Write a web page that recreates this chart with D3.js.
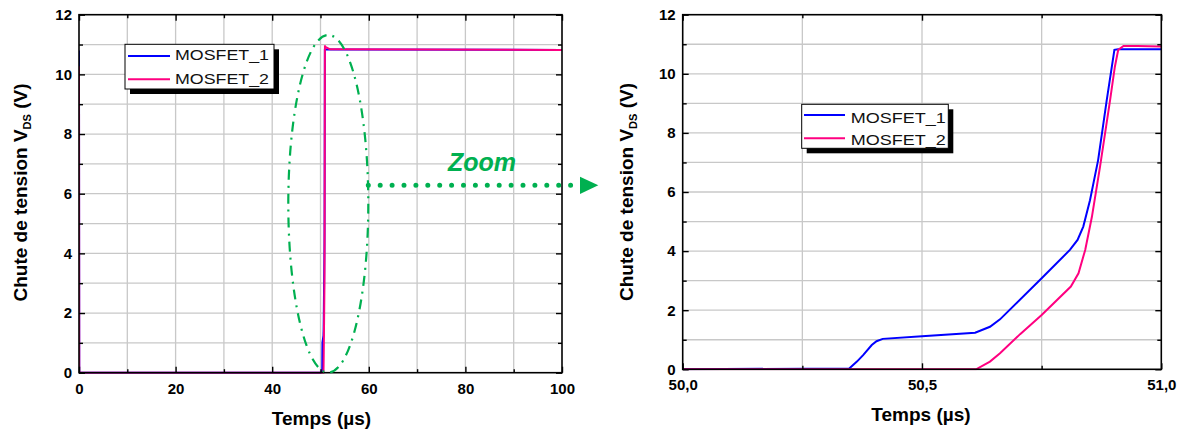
<!DOCTYPE html>
<html><head><meta charset="utf-8">
<script src="https://cdn.jsdelivr.net/npm/d3@7"></script>
<style>body{margin:0;background:#fff}svg{display:block}</style>
</head><body>
<svg id="c" width="1185" height="434"></svg>
<script>
// ---- data ----
const seriesNames = ["MOSFET_1", "MOSFET_2"];
// zoomed transition (µs, V)
const zoomT1 = [50.0, 50.348, 50.364, 50.377, 50.395, 50.405, 50.418, 50.5, 50.611, 50.642, 50.663, 50.75, 50.809, 50.825, 50.837, 50.851, 50.868, 50.886, 50.902, 50.91, 51.0];
const zoomV1 = [0, 0.03, 0.26, 0.48, 0.82, 0.95, 1.03, 1.12, 1.24, 1.44, 1.69, 3.08, 4.04, 4.38, 4.83, 5.72, 7.08, 9.11, 10.81, 10.83, 10.83];
const zoomT2 = [50.0, 50.613, 50.642, 50.663, 50.705, 50.75, 50.811, 50.827, 50.841, 50.855, 50.872, 50.893, 50.903, 50.910, 50.921, 50.95, 51.0];
const zoomV2 = [0, 0, 0.26, 0.54, 1.19, 1.84, 2.80, 3.25, 4.04, 5.16, 6.86, 9.11, 10.24, 10.81, 10.94, 10.94, 10.92];
// full-range head/tail (µs, V)
const headT1 = [0, 0.05], headV1 = [10.8, 0];
const headT2 = [0, 0.05], headV2 = [10.27, 0];
const tailT1 = [52, 100], tailV1 = [10.83, 10.82];
const tailT2 = [52, 100], tailV2 = [10.84, 10.82];
// ticks
const leftXMajor = [0, 20, 40, 60, 80, 100];
const leftXMinor = [10, 30, 50, 70, 90];
const leftXGrid = [10, 20, 30, 40, 50, 60, 70, 80, 90];
const rightXMajor = [50.0, 50.5, 51.0];
const rightXMinor = [50.25, 50.75];
const rightXGrid = [50.25, 50.5, 50.75];
const yMajor = [0, 2, 4, 6, 8, 10, 12];
const yMinor = [1, 3, 5, 7, 9, 11];
const yGrid = [1, 2, 3, 4, 5, 6, 7, 8, 9, 10, 11];

const colors = ["#0000ff", "#ff0080"];
const green = "#00b050";
const svg = d3.select("#c");
svg.append("rect").attr("width", 1185).attr("height", 434).attr("fill", "#fff");

function zip(t, v) { return t.map((d, i) => [d, v[i]]); }

function panel(o) {
  const x = d3.scaleLinear().domain(o.xd).range(o.xr);
  const y = d3.scaleLinear().domain([0, 12]).range(o.yr);
  const g = svg.append("g");
  const [x0, x1] = o.xr, [y0, y1] = o.yr;
  // grid
  g.selectAll(".gx").data(o.xGrid).join("line")
    .attr("x1", d => x(d)).attr("x2", d => x(d)).attr("y1", y0).attr("y2", y1)
    .attr("stroke", "#c8c8c8").attr("stroke-width", 1.3);
  g.selectAll(".gy").data(yGrid).join("line")
    .attr("x1", x0).attr("x2", x1).attr("y1", d => y(d)).attr("y2", d => y(d))
    .attr("stroke", "#c8c8c8").attr("stroke-width", 1.3);
  // curves
  const cid = "clip" + o.id;
  svg.append("clipPath").attr("id", cid).append("rect")
    .attr("x", x0).attr("y", y1 - 2).attr("width", x1 - x0).attr("height", y0 - y1 + 3);
  const line = d3.line().x(d => x(d[0])).y(d => y(d[1]));
  o.series.forEach((s, i) => {
    g.append("path").attr("d", line(s)).attr("fill", "none")
      .attr("stroke", colors[i]).attr("stroke-width", 2).attr("clip-path", `url(#${cid})`);
  });
  // axes
  const font = s => s.attr("font-family", "Liberation Sans, Arial, sans-serif").attr("font-weight", "bold").attr("font-size", "15px").attr("fill", "#000");
  const ax = (gen, tr, vals, size, fmt, pad) => {
    const a = g.append("g").attr("transform", tr)
      .call(gen.tickValues(vals).tickSizeInner(-size).tickSizeOuter(0).tickPadding(pad).tickFormat(fmt));
    a.select(".domain").remove();
    a.selectAll("line").attr("stroke", "#000").attr("stroke-width", 1.4);
    a.selectAll("text").call(font);
    return a;
  };
  const none = () => "";
  ax(d3.axisBottom(x), `translate(0,${y0})`, o.xMajor, 6, o.xFmt, 10.5);
  ax(d3.axisBottom(x), `translate(0,${y0})`, o.xMinor, 3.5, none, 0);
  ax(d3.axisTop(x), `translate(0,${y1})`, o.xMajor, 6, none, 0);
  ax(d3.axisTop(x), `translate(0,${y1})`, o.xMinor, 3.5, none, 0);
  ax(d3.axisLeft(y), `translate(${x0},0)`, yMajor, 6, d3.format("d"), 7);
  ax(d3.axisLeft(y), `translate(${x0},0)`, yMinor, 4, none, 0);
  ax(d3.axisRight(y), `translate(${x1},0)`, yMajor, 6, none, 0);
  ax(d3.axisRight(y), `translate(${x1},0)`, yMinor, 4, none, 0);
  // frame
  g.append("rect").attr("x", x0).attr("y", y1).attr("width", x1 - x0).attr("height", y0 - y1)
    .attr("fill", "none").attr("stroke", "#000").attr("stroke-width", 1.6);
  // titles
  const tf = "Liberation Sans, Arial, sans-serif";
  g.append("text").attr("x", o.xtPos[0]).attr("y", o.xtPos[1]).attr("text-anchor", "middle")
    .attr("font-family", tf).attr("font-weight", "bold").attr("font-size", "19px").text("Temps (µs)");
  const yt = g.append("text").attr("transform", `translate(${o.ytPos[0]},${o.ytPos[1]}) rotate(-90)`)
    .attr("text-anchor", "middle").attr("font-family", tf).attr("font-weight", "bold").attr("font-size", "19px");
  yt.append("tspan").text("Chute de tension V");
  yt.append("tspan").attr("font-size", "11px").attr("dy", 4).text("DS");
  yt.append("tspan").attr("dy", -4).text(" (V)");
  // legend
  const L = o.legend;
  const lg = svg.append("g");
  lg.append("rect").attr("x", L.x + 5).attr("y", L.y + 5).attr("width", L.w).attr("height", L.h).attr("fill", "#000");
  lg.append("rect").attr("x", L.x).attr("y", L.y).attr("width", L.w).attr("height", L.h).attr("fill", "#fff").attr("stroke", "#000").attr("stroke-width", 1);
  seriesNames.forEach((n, i) => {
    lg.append("line").attr("x1", L.lx0).attr("x2", L.lx1).attr("y1", L.ly[i]).attr("y2", L.ly[i])
      .attr("stroke", colors[i]).attr("stroke-width", 2);
    lg.append("text").attr("x", L.tx).attr("y", L.tb[i]).attr("font-family", tf).attr("font-size", "15.5px")
      .attr("textLength", L.tl).attr("lengthAdjust", "spacingAndGlyphs").attr("fill", "#111").text(n);
  });
}

const fmtComma = d => d3.format(".1f")(d).replace(".", ",");

panel({
  id: "L", xd: [0, 100], xr: [79, 562], yr: [372.7, 14.7],
  xMajor: leftXMajor, xMinor: leftXMinor, xGrid: leftXGrid, xFmt: d3.format("d"),
  series: [
    zip(headT1.concat(zoomT1, tailT1), headV1.concat(zoomV1, tailV1)),
    zip(headT2.concat(zoomT2, tailT2), headV2.concat(zoomV2, tailV2))
  ],
  xtPos: [321.5, 425], ytPos: [27, 192.5],
  legend: { x: 125, y: 44.3, w: 149, h: 44.7, lx0: 128, lx1: 170, ly: [56, 79.3], tx: 175, tb: [60, 83.5], tl: 94 }
});
panel({
  id: "R", xd: [50, 51], xr: [682.7, 1161.3], yr: [369.3, 14.7],
  xMajor: rightXMajor, xMinor: rightXMinor, xGrid: rightXGrid, xFmt: fmtComma,
  series: [zip(zoomT1, zoomV1), zip(zoomT2, zoomV2)],
  xtPos: [921, 421], ytPos: [633, 192],
  legend: { x: 801.7, y: 104.3, w: 146.6, h: 44, lx0: 804, lx1: 845, ly: [115, 138.3], tx: 850.7, tb: [122.9, 144.5], tl: 95 }
});

// zoom annotation
const ann = svg.append("g");
ann.append("ellipse").attr("cx", 328.3).attr("cy", 203.8).attr("rx", 40).attr("ry", 168.8)
  .attr("fill", "none").attr("stroke", green).attr("stroke-width", 2.2).attr("stroke-dasharray", "10,6,2,6");
ann.append("line").attr("x1", 368.3).attr("x2", 576).attr("y1", 185.3).attr("y2", 185.3)
  .attr("stroke", green).attr("stroke-width", 5).attr("stroke-linecap", "round").attr("stroke-dasharray", "0,11.9");
ann.append("path").attr("d", d3.line()([[580, 176.7], [598.3, 185.3], [580, 194]]) + "Z").attr("fill", green);
ann.append("text").attr("x", 482).attr("y", 170.7).attr("text-anchor", "middle")
  .attr("font-family", "Liberation Sans, Arial, sans-serif").attr("font-weight", "bold").attr("font-style", "italic")
  .attr("font-size", "25px").attr("fill", green).text("Zoom");
</script>
</body></html>
